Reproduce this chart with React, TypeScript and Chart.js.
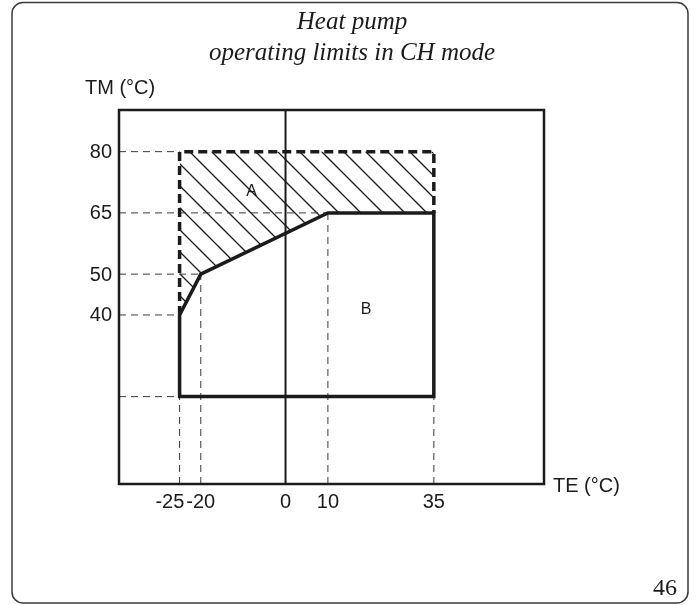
import { useEffect, useRef } from 'react';
import { Chart, registerables } from 'chart.js';

Chart.register(...registerables);

// ---- data ----
const TITLE_LINES = ['Heat pump', 'operating limits in CH mode'];
const Y_TITLE = 'TM (°C)';
const X_TITLE = 'TE (°C)';
const PAGE_NO = '46';

const X_TICKS = [-25, -20, 0, 10, 35];
const Y_TICKS = [80, 65, 50, 40];
const X_RANGE = [-39.3, 61];
const Y_RANGE = [-1.4, 90.2];

// Region B outline (closed)
const B_TE = [-25, -20, 10, 35, 35, -25, -25];
const B_TM = [40, 50, 65, 65, 20, 20, 40];

// Region A (hatched) boundaries
const A_TOP_TE = [-25, 35];
const A_TOP_TM = [80, 80];
const A_LOW_TE = [-25, -20, 10, 35];
const A_LOW_TM = [40, 50, 65, 65];
const A_EDGE_TE = [-25, -25, 35, 35];
const A_EDGE_TM = [40, 80, 80, 65];

// Dashed guide lines
const H_GUIDE_TM = [80, 65, 50, 40, 20];
const H_GUIDE_END_TE = [-25, 10, -20, -25, -25];
const V_GUIDE_TE = [-25, -20, 10, 35];
const V_GUIDE_END_TM = [20, 50, 65, 20];

// Region labels
const REGION_NAMES = ['A', 'B'];
const REGION_TE = [-8, 19];
const REGION_TM = [70.3, 41.4];

const INK = '#1c1a1a';

function pts(xs: number[], ys: number[]) {
  return xs.map((x, i) => ({ x, y: ys[i] }));
}

function makeHatch(): CanvasPattern | string {
  const s = 22;
  const c = document.createElement('canvas');
  c.width = s;
  c.height = s;
  const g = c.getContext('2d');
  if (!g) return 'rgba(0,0,0,0.2)';
  g.strokeStyle = INK;
  g.lineWidth = 1.3;
  const off = 16;
  g.beginPath();
  for (const o of [-s, 0, s]) {
    g.moveTo(off + o - 3, -3);
    g.lineTo(off + o + s + 3, s + 3);
  }
  g.stroke();
  return g.createPattern(c, 'repeat') || 'rgba(0,0,0,0.2)';
}

const decor = {
  id: 'decor',
  afterDatasetsDraw(chart: any) {
    const { ctx, chartArea: a, scales } = chart;
    ctx.save();
    ctx.strokeStyle = INK;
    ctx.lineWidth = 2;
    const x0 = scales.x.getPixelForValue(0);
    ctx.beginPath();
    ctx.moveTo(x0, a.top);
    ctx.lineTo(x0, a.bottom);
    ctx.stroke();
    ctx.lineWidth = 2.5;
    ctx.strokeRect(a.left, a.top, a.right - a.left, a.bottom - a.top);
    ctx.restore();
  },
  afterDraw(chart: any) {
    const { ctx, scales } = chart;
    const xs = scales.x;
    const ys = scales.y;
    ctx.save();
    // outer rounded frame
    ctx.strokeStyle = '#3a3a3a';
    ctx.lineWidth = 1.5;
    ctx.beginPath();
    (ctx as any).roundRect(12, 2.5, 676, 600.5, 11);
    ctx.stroke();

    ctx.fillStyle = INK;
    // title
    ctx.font = 'italic 25px "Liberation Serif", serif';
    ctx.textAlign = 'center';
    ctx.textBaseline = 'alphabetic';
    ctx.fillText(TITLE_LINES[0], 352, 29);
    ctx.fillText(TITLE_LINES[1], 352, 60);

    // axis titles
    ctx.font = '20px "Liberation Sans", Arial, sans-serif';
    ctx.textAlign = 'left';
    ctx.fillText(Y_TITLE, 85, 94);
    ctx.fillText(X_TITLE, 553, 492);

    // y tick labels
    ctx.textAlign = 'right';
    ctx.textBaseline = 'middle';
    Y_TICKS.forEach((v) => {
      ctx.fillText(String(v), 112, ys.getPixelForValue(v) + 1);
    });

    // x tick labels with overlap avoidance
    ctx.textBaseline = 'alphabetic';
    ctx.textAlign = 'center';
    const labels = X_TICKS.map((v) => String(v));
    const centers = X_TICKS.map((v) => xs.getPixelForValue(v));
    const widths = labels.map((t) => ctx.measureText(t).width);
    for (let i = labels.length - 1; i > 0; i--) {
      const leftOfThis = centers[i] - widths[i] / 2;
      const rightOfPrev = centers[i - 1] + widths[i - 1] / 2;
      if (rightOfPrev > leftOfThis - 2) {
        centers[i - 1] -= rightOfPrev - (leftOfThis - 2);
      }
    }
    labels.forEach((t, i) => ctx.fillText(t, centers[i], 508));

    // region labels
    ctx.font = '16px "Liberation Sans", Arial, sans-serif';
    ctx.textBaseline = 'middle';
    REGION_NAMES.forEach((n, i) => {
      ctx.fillText(n, xs.getPixelForValue(REGION_TE[i]), ys.getPixelForValue(REGION_TM[i]));
    });

    // page number
    ctx.font = '24px "Liberation Serif", serif';
    ctx.textAlign = 'right';
    ctx.textBaseline = 'alphabetic';
    ctx.fillText(PAGE_NO, 677, 595);
    ctx.restore();
  },
};

export default function App() {
  const ref = useRef<HTMLCanvasElement | null>(null);

  useEffect(() => {
    const canvas = ref.current;
    if (!canvas) return;
    const hatch = makeHatch();

    const guide = (data: { x: number; y: number }[]) => ({
      data,
      showLine: true,
      borderColor: '#3a3a3a',
      borderWidth: 1,
      borderDash: [7, 5],
      pointRadius: 0,
      fill: false,
      order: 2,
    });

    const datasets: any[] = [
      {
        label: 'B',
        data: pts(B_TE, B_TM),
        showLine: true,
        borderColor: INK,
        borderWidth: 3.5,
        borderJoinStyle: 'miter',
        borderCapStyle: 'butt',
        pointRadius: 0,
        fill: false,
        order: 0,
      },
      {
        label: 'A edge',
        data: pts(A_EDGE_TE, A_EDGE_TM),
        showLine: true,
        borderColor: INK,
        borderWidth: 3.5,
        borderDash: [9, 5],
        borderJoinStyle: 'miter',
        pointRadius: 0,
        fill: false,
        order: 1,
      },
      ...H_GUIDE_TM.map((tm, i) =>
        guide([
          { x: X_RANGE[0], y: tm },
          { x: H_GUIDE_END_TE[i], y: tm },
        ])
      ),
      ...V_GUIDE_TE.map((te, i) =>
        guide([
          { x: te, y: Y_RANGE[0] },
          { x: te, y: V_GUIDE_END_TM[i] },
        ])
      ),
    ];
    const topIndex = datasets.length;
    datasets.push({
      label: 'A top',
      data: pts(A_TOP_TE, A_TOP_TM),
      showLine: true,
      borderWidth: 0,
      borderColor: 'rgba(0,0,0,0)',
      backgroundColor: hatch,
      pointRadius: 0,
      fill: topIndex + 1,
      order: 3,
    });
    datasets.push({
      label: 'A low',
      data: pts(A_LOW_TE, A_LOW_TM),
      showLine: true,
      borderWidth: 0,
      borderColor: 'rgba(0,0,0,0)',
      pointRadius: 0,
      fill: false,
      order: 4,
    });

    const chart = new Chart(canvas, {
      type: 'scatter',
      data: { datasets },
      options: {
        responsive: false,
        animation: false,
        devicePixelRatio: 1,
        events: [],
        layout: { padding: { left: 119, top: 110, right: 153, bottom: 121 } },
        elements: { line: { tension: 0 } },
        scales: {
          x: { type: 'linear', min: X_RANGE[0], max: X_RANGE[1], display: false },
          y: { type: 'linear', min: Y_RANGE[0], max: Y_RANGE[1], display: false },
        },
        plugins: {
          legend: { display: false },
          tooltip: { enabled: false },
          title: { display: false },
        },
      },
      plugins: [decor],
    } as any);

    return () => chart.destroy();
  }, []);

  return (
    <div style={{ position: 'fixed', left: 0, top: 0, width: 697, height: 605, background: '#fff' }}>
      <canvas ref={ref} width={697} height={605} style={{ display: 'block' }} />
    </div>
  );
}
